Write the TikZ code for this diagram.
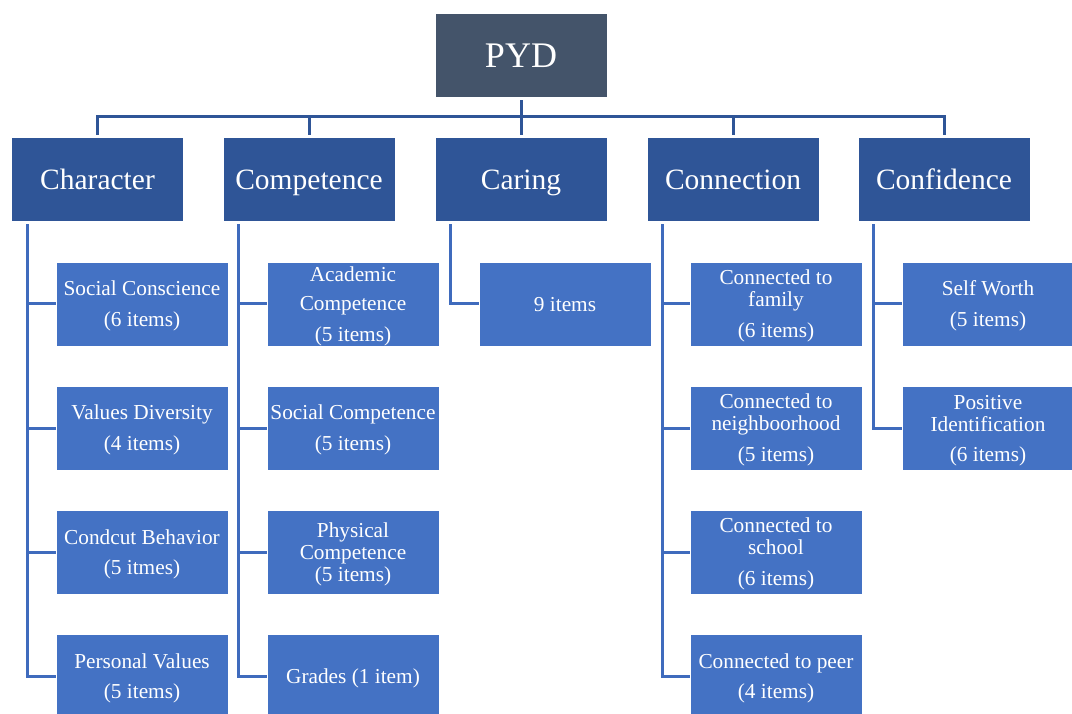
\documentclass[tikz,border=0pt]{standalone}
\usepackage{fontspec}
\setmainfont{Liberation Serif}
\definecolor{pydc}{HTML}{44546A}
\definecolor{lonec}{HTML}{2F5597}
\definecolor{leafc}{HTML}{4472C4}
\definecolor{busc}{HTML}{2F5597}
\definecolor{linec}{HTML}{3F6BBD}
\newcommand{\tp}{\rule{0pt}{19pt}}
\tikzset{
  box/.style={rectangle, draw=white, line width=0.8pt, text=white, minimum width=172pt, minimum height=84pt, inner sep=0pt, align=center},
  toproot/.style={box, fill=pydc, font=\fontsize{36}{40}\selectfont, text height=26pt, text depth=1pt},
  lone/.style={box, fill=lonec, font=\fontsize{29.5}{33}\selectfont, text height=24pt, text depth=3pt},
  leaf/.style={box, fill=leafc, font=\fontsize{21.3}{22}\selectfont},
  bus/.style={draw=busc, line width=3pt},
  ln/.style={draw=linec, line width=3pt}
}
\begin{document}
\begin{tikzpicture}[x=1pt,y=-1pt]
\useasboundingbox (0,0) rectangle (1072,714);
\coordinate (busy) at (0,117);
% root
\node[toproot] (pyd) at (521,55) {PYD};
% level one
\node[lone] (char) at (97.5,179) {Character};
\node[lone] (comp) at (309,179) {Competence};
\node[lone] (car) at (521,179) {Caring};
\node[lone] (conn) at (733,179) {Connection};
\node[lone] (conf) at (944,179) {Confidence};
% leaves: character
\node[leaf] (sc) at (142,304) {\tp Social Conscience\\[9pt](6 items)};
\node[leaf] (vd) at (142,428) {\tp Values Diversity\\[9pt](4 items)};
\node[leaf] (cb) at (142,552) {\tp Condcut Behavior\\[8pt](5 itmes)};
\node[leaf] (pv) at (142,676) {\tp Personal Values\\[8pt](5 items)};
% competence
\node[leaf] (ac) at (353,304) {\tp Academic\\[7pt]Competence\\[9pt](5 items)};
\node[leaf] (soc) at (353,428) {\tp Social Competence\\[9pt](5 items)};
\node[leaf] (pc) at (353,552) {\tp Physical\\Competence\\(5 items)};
\node[leaf, text height=16pt, text depth=1pt] (gr) at (353,676) {Grades (1 item)};
% caring
\node[leaf, text height=16pt, text depth=1pt] (nine) at (565,304) {9 items};
% connection
\node[leaf] (cf) at (776,304) {\tp Connected to\\family\\[9pt](6 items)};
\node[leaf] (cn) at (776,428) {\tp Connected to\\neighboorhood\\[9pt](5 items)};
\node[leaf] (cs) at (776,552) {\tp Connected to\\school\\[9pt](6 items)};
\node[leaf] (cp) at (776,676) {\tp Connected to peer\\[8pt](4 items)};
% confidence
\node[leaf] (sw) at (988,304) {\tp Self Worth\\[9pt](5 items)};
\node[leaf] (pi) at (988,428) {\tp Positive\\Identification\\[8pt](6 items)};
% bus connectors
\draw[bus] ([yshift=2pt]char.north) |- (busy -| conf.north) -- ([yshift=2pt]conf.north);
\draw[bus] ([yshift=-3pt]pyd.south) -- ([yshift=2pt]car.north);
\draw[bus] ([yshift=2pt]comp.north) -- (comp.north |- busy);
\draw[bus] ([yshift=2pt]conn.north) -- (conn.north |- busy);
% branch connectors
\foreach \p/\c in {char/sc, char/vd, char/cb, char/pv, comp/ac, comp/soc, comp/pc, comp/gr, car/nine, conn/cf, conn/cn, conn/cs, conn/cp, conf/sw, conf/pi}{
  \draw[ln] ([xshift=16pt,yshift=-3pt]\p.south west) |- (\c.west);
}
\end{tikzpicture}
\end{document}
